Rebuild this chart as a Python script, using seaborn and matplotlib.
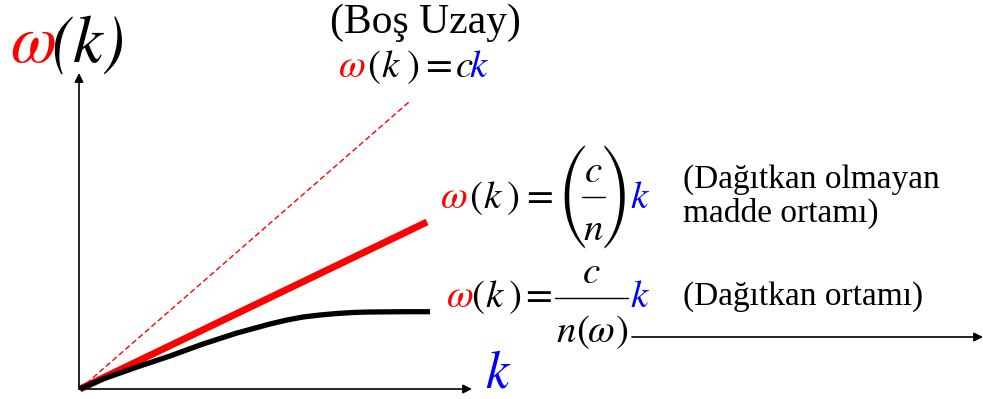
import matplotlib
matplotlib.use("Agg")
import matplotlib.pyplot as plt
import seaborn as sns

# Dispersion relations, k and omega in drawing units measured from the origin
k_vacuum = [0, 329]
w_vacuum = [0, 287]

k_nondisp = [0, 347]
w_nondisp = [0, 167]

k_disp = [0, 23, 57, 90, 123, 157, 190, 207, 223, 240, 257, 273, 290, 323, 350]
w_disp = [0, 10, 22, 33, 45, 56, 65, 69, 72, 74, 75.5, 76.5, 77, 77.3, 77.3]

title_free = "(Boş Uzay)"
note_nondisp = ["(Dağıtkan olmayan", "madde ortamı)"]
note_disp = "(Dağıtkan ortamı)"

sns.set_theme(style="white")
plt.rcParams["font.family"] = ["Liberation Serif", "DejaVu Serif"]

W, H = 983, 399
OX, OY = 80, 389  # origin position in pixels from left / top
fig = plt.figure(figsize=(W / 100, H / 100), dpi=100)
ax = fig.add_axes([0, 0, 1, 1])
ax.set_xlim(-OX, W - OX)
ax.set_ylim(-(H - OY), OY)
ax.axis("off")

RED, BLUE, BLACK = "#ff0000", "#0000ff", "#000000"

sns.lineplot(x=k_vacuum, y=w_vacuum, ax=ax, color=RED, lw=1.0,
             linestyle=(0, (4, 2.2)))
sns.lineplot(x=k_nondisp, y=w_nondisp, ax=ax, color=RED, lw=5.0,
             solid_capstyle="butt")
sns.lineplot(x=k_disp, y=w_disp, ax=ax, color=BLACK, lw=3.8,
             solid_capstyle="butt", solid_joinstyle="round")


def P(px, py):
    """pixel position (left/top origin) to data position"""
    return px - OX, OY - py


# axes arrows
arrow = dict(arrowstyle="-|>", color="black", lw=1.2, mutation_scale=13,
             shrinkA=0, shrinkB=0)
ax.annotate("", xy=P(79, 73), xytext=P(79, 389), arrowprops=arrow)
ax.annotate("", xy=P(472, 389), xytext=P(79, 389), arrowprops=arrow)
ax.annotate("", xy=P(983, 337), xytext=P(632, 337), arrowprops=arrow)

MATH = ["STIXGeneral", "DejaVu Serif"]
IT = dict(family=MATH, style="italic")
UP = dict(family=MATH)


def glyphs(py, items, size, ha="left"):
    for px, s, col, kw in items:
        ax.text(*P(px, py), s, color=col, fontsize=size, va="baseline",
                ha=ha, **kw)


def frac_bar(x0, x1, py):
    ax.plot([x0 - OX, x1 - OX], [OY - py, OY - py], color=BLACK, lw=1.0)


EQ = 28

# vertical axis label
glyphs(62, [(10, "ω", RED, IT), (51, "(k)", BLACK, IT)], 48)

# horizontal axis label
glyphs(387, [(485, "k", BLUE, IT)], 38)

# free space
ax.text(*P(425, 33), title_free, fontsize=30, ha="center", va="baseline",
        color=BLACK)
glyphs(77, [(339, "ω", RED, IT), (367, "(", BLACK, UP), (381, "k", BLACK, IT),
            (407, ")", BLACK, UP), (425, "=", BLACK, UP),
            (456, "c", BLACK, IT), (469, "k", BLUE, IT)], EQ)

# non-dispersive medium
glyphs(208, [(441, "ω", RED, IT), (469, "(", BLACK, UP), (483, "k", BLACK, IT),
             (507, ")", BLACK, UP), (526, "=", BLACK, UP),
             (630, "k", BLUE, IT)], EQ)
for px, s in [(556, "("), (601, ")")]:
    ax.text(*P(px, 197), s, color=BLACK, fontsize=30,
            family=["STIXSizeThreeSym"], va="center", ha="left")
glyphs(182, [(593, "c", BLACK, IT)], EQ, ha="center")
glyphs(240, [(593, "n", BLACK, IT)], EQ, ha="center")
frac_bar(582, 605, 197)
ax.text(*P(683, 188), note_nondisp[0], fontsize=24, va="baseline",
        color=BLACK)
ax.text(*P(683, 222), note_nondisp[1], fontsize=24, va="baseline",
        color=BLACK)

# dispersive medium
glyphs(307, [(447, "ω", RED, IT), (471, "(", BLACK, UP), (485, "k", BLACK, IT),
             (509, ")", BLACK, UP), (525, "=", BLACK, UP),
             (630, "k", BLUE, IT)], EQ)
glyphs(283, [(591, "c", BLACK, IT)], EQ, ha="center")
glyphs(342, [(556, "n", BLACK, IT), (576, "(", BLACK, UP),
             (588, "ω", BLACK, IT), (616, ")", BLACK, UP)], EQ)
frac_bar(555, 628, 298)
ax.text(*P(683, 305), note_disp, fontsize=24, va="baseline", color=BLACK)

fig.savefig("out.png", dpi=100)
